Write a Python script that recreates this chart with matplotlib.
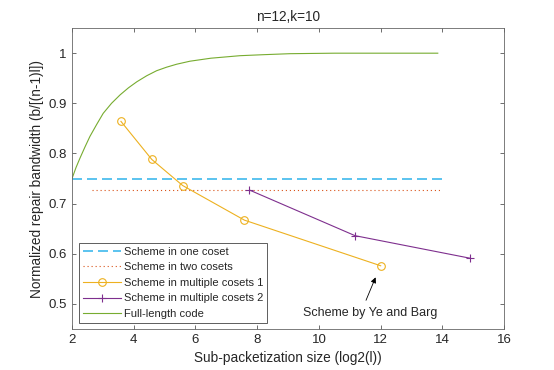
import numpy as np
import matplotlib
matplotlib.use("Agg")
import matplotlib.pyplot as plt

plt.rcParams['font.family'] = ['Liberation Sans', 'DejaVu Sans']
plt.rcParams['lines.scale_dashes'] = False

# datos
x_uno = [2, 14]
y_uno = [0.75, 0.75]
x_dos = [2.64, 14]
y_dos = [0.727, 0.727]
x_mult1 = [3.585, 4.585, 5.585, 7.585, 12.0]
y_mult1 = [0.864, 0.788, 0.736, 0.667, 0.576]
x_mult2 = [7.75, 11.17, 14.9]
y_mult2 = [0.727, 0.636, 0.591]
x_full = [2.0, 2.13, 2.26, 2.42, 2.58, 2.8, 3.01, 3.28, 3.56, 3.83, 4.10, 4.42, 4.74,
          5.06, 5.39, 5.82, 6.5, 7.44, 8.2, 9.06, 10.5, 13.85]
y_full = [0.75, 0.772, 0.791, 0.813, 0.834, 0.858, 0.880, 0.900, 0.917, 0.931, 0.943,
          0.955, 0.965, 0.972, 0.978, 0.984, 0.990, 0.995, 0.997, 0.999, 1.0, 1.0]

etiquetas = ["Scheme in one coset", "Scheme in two cosets", "Scheme in multiple cosets 1",
             "Scheme in multiple cosets 2", "Full-length code"]

fig = plt.figure(figsize=(5.54, 3.70), dpi=100)
ax = fig.add_axes([0.13, 0.111, 0.78, 0.813])

ax.plot(x_uno, y_uno, color='#4DBEEE', lw=1.3, dashes=(7.2, 3.6), label=etiquetas[0])
ax.plot(x_dos, y_dos, color='#D95319', lw=0.8, dashes=(0.8, 2.1), label=etiquetas[1])
ax.plot(x_mult1, y_mult1, color='#EDB120', lw=0.8, marker='o', ms=5.5, mfc='none',
        mew=0.8, label=etiquetas[2])
ax.plot(x_mult2, y_mult2, color='#7E2F8E', lw=0.8, marker='+', ms=6, mew=0.8,
        label=etiquetas[3])
ax.plot(x_full, y_full, color='#77AC30', lw=0.8, label=etiquetas[4])

ax.annotate('', xy=(11.87, 0.558), xytext=(11.49, 0.502),
            arrowprops=dict(arrowstyle='-|>', color='k', lw=0.6, mutation_scale=8))
ax.text(11.66, 0.482, "Scheme by Ye and Barg", ha='center', va='center', fontsize=9,
        color='#262626')

ax.set_xlim(2, 16)
ax.set_ylim(0.45, 1.05)
ax.set_xticks(np.arange(2, 17, 2))
ax.set_yticks([0.5, 0.6, 0.7, 0.8, 0.9, 1.0])
ax.set_yticklabels(["0.5", "0.6", "0.7", "0.8", "0.9", "1"])
ax.tick_params(direction='in', top=True, right=True, length=3, width=0.6, pad=4,
               colors='#555555', labelcolor='#262626', labelsize=9.5)
for s in ax.spines.values():
    s.set_color('#666666')
    s.set_linewidth(0.6)

ax.set_xlabel("Sub-packetization size (log2(l))", fontsize=9.8, color='#262626', labelpad=3)
ax.set_ylabel("Normalized repair bandwidth (b/[(n-1)l])", fontsize=9.8, color='#262626', labelpad=3)
ax.set_title("n=12,k=10", fontsize=9.8, color='#262626', pad=5)

leg = ax.legend(loc='lower left', bbox_to_anchor=(0.016, 0.02), borderaxespad=0,
                fontsize=8, handlelength=3.4, handletextpad=0.3, labelspacing=0.5,
                borderpad=0.35, fancybox=False, framealpha=1, edgecolor='#444444')
leg.get_frame().set_linewidth(0.6)
for t in leg.get_texts():
    t.set_color('#262626')

fig.savefig("out.png", dpi=100)
